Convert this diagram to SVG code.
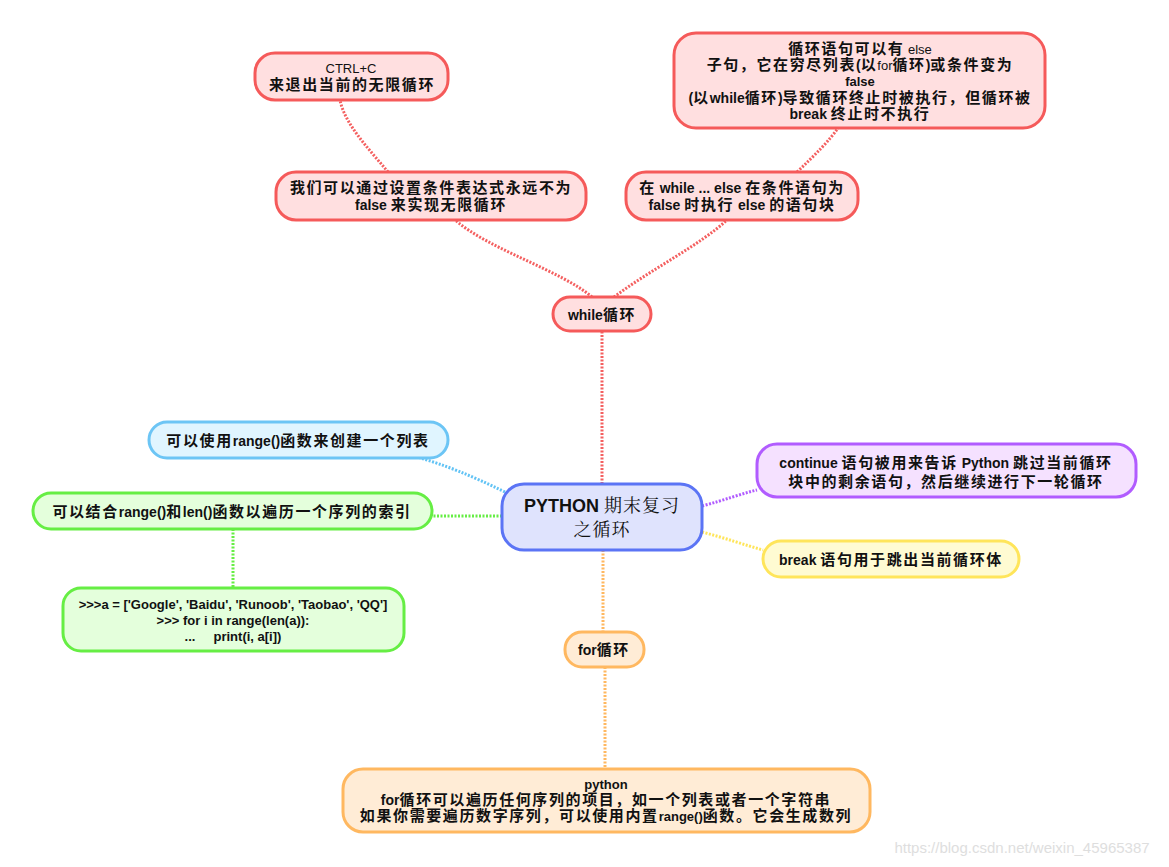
<svg xmlns="http://www.w3.org/2000/svg" width="1169" height="867" viewBox="0 0 1169 867">
<style>
text{font-family:"Liberation Sans","Noto Sans CJK SC",sans-serif;font-weight:bold;fill:#111;text-anchor:middle}
.t{font-size:15px;letter-spacing:1.6px}
.l{letter-spacing:0;font-size:14px}
.n{font-weight:normal;letter-spacing:0;font-size:13px}
.s{font-size:13px;font-weight:normal}
.b{font-size:13px}
.c{fill:none;stroke-width:3;stroke-dasharray:2 1.5}
.red{stroke:#f46060}
.nr{fill:#ffdfe0;stroke:#f55a5a;stroke-width:3}
</style>
<rect width="1169" height="867" fill="#fff"/>
<g id="connectors">
<path class="c red" d="M602,484 V331"/>
<path class="c red" d="M592,297 C560,270 490,250 455,220"/>
<path class="c red" d="M614,297 C650,270 700,245 727,220"/>
<path class="c red" d="M388,172 C370,150 345,125 340,100"/>
<path class="c red" d="M797,172 C815,155 830,140 838,128"/>
<path class="c" stroke="#62c3f5" d="M505,492 C470,475 445,465 420,458"/>
<path class="c" stroke="#66ee44" d="M502,516 H432"/>
<path class="c" stroke="#66ee44" d="M233,529 V588"/>
<path class="c" stroke="#ffb860" d="M603,550 V632"/>
<path class="c" stroke="#ffb860" d="M605,667 V769"/>
<path class="c" stroke="#b15cff" d="M702,506 C725,500 740,494 757,490"/>
<path class="c" stroke="#ffe55a" d="M702,532 C725,538 745,545 763,550"/>
</g>
<g id="center">
<rect x="502" y="484" width="200" height="66" rx="22" fill="#dfe3fd" stroke="#5b74f5" stroke-width="3"/>
<text x="602" y="512" font-size="18">PYTHON <tspan style="font-weight:normal;letter-spacing:1px" font-family="Noto Serif CJK SC,DejaVu Serif,serif">期末复习</tspan></text>
<text x="602" y="536" font-size="18" style="font-weight:normal;letter-spacing:1px;font-family:'Noto Serif CJK SC','Noto Sans CJK SC',serif">之循环</text>
</g>
<g id="while">
<rect class="nr" x="553" y="297" width="98" height="34" rx="17"/>
<text class="t" x="602" y="320"><tspan class="l">while</tspan>循环</text>
</g>
<g id="infinite">
<rect class="nr" x="276" y="172" width="310" height="48" rx="20"/>
<text class="t" x="431" y="193">我们可以通过设置条件表达式永远不为</text>
<text class="t" x="431" y="210"><tspan class="l">false </tspan>来实现无限循环</text>
</g>
<g id="ctrlc">
<rect class="nr" x="255" y="53" width="193" height="47" rx="20"/>
<text class="s" x="351" y="73">CTRL+C</text>
<text class="t" x="352" y="90">来退出当前的无限循环</text>
</g>
<g id="whileelse">
<rect class="nr" x="626" y="172" width="232" height="48" rx="20"/>
<text class="t" x="742" y="193">在<tspan class="l"> while ... else </tspan>在条件语句为</text>
<text class="t" x="742" y="210"><tspan class="l">false </tspan>时执行<tspan class="l"> else </tspan>的语句块</text>
</g>
<g id="elseclause">
<rect class="nr" x="674" y="33" width="371" height="95" rx="22"/>
<text class="t" x="860" y="54">循环语句可以有<tspan class="n"> else</tspan></text>
<text class="t" x="860" y="70">子句，它在穷尽列表<tspan class="l">(</tspan>以<tspan class="n">for</tspan>循环<tspan class="l">)</tspan>或条件变为</text>
<text class="b" x="860" y="86">false</text>
<text class="t" x="860" y="103"><tspan class="l">(</tspan>以<tspan class="l">while</tspan>循环<tspan class="l">)</tspan>导致循环终止时被执行，但循环被</text>
<text class="t" x="860" y="119"><tspan class="l">break </tspan>终止时不执行</text>
</g>
<g id="rangelist">
<rect x="149" y="422" width="299" height="36" rx="18" fill="#e0f5ff" stroke="#6cc5f5" stroke-width="3"/>
<text class="t" x="298" y="446">可以使用<tspan class="l">range()</tspan>函数来创建一个列表</text>
</g>
<g id="rangelen">
<rect x="33" y="493" width="399" height="36" rx="18" fill="#e4ffdc" stroke="#66ee44" stroke-width="3"/>
<text class="t" x="232" y="517">可以结合<tspan class="l">range()</tspan>和<tspan class="l">len()</tspan>函数以遍历一个序列的索引</text>
</g>
<g id="code">
<rect x="63" y="588" width="341" height="63" rx="18" fill="#e4ffdc" stroke="#66ee44" stroke-width="3"/>
<text x="233" y="609" font-size="13">&gt;&gt;&gt;a = ['Google', 'Baidu', 'Runoob', 'Taobao', 'QQ']</text>
<text x="233" y="625" font-size="13">&gt;&gt;&gt; for i in range(len(a)):</text>
<text x="233" y="641" font-size="13" xml:space="preserve">...     print(i, a[i])</text>
</g>
<g id="for">
<rect x="565" y="632" width="79" height="35" rx="17" fill="#ffecd6" stroke="#ffb860" stroke-width="3"/>
<text class="t" x="604" y="655"><tspan class="l">for</tspan>循环</text>
</g>
<g id="python">
<rect x="343" y="769" width="527" height="63" rx="20" fill="#ffecd6" stroke="#ffb860" stroke-width="3"/>
<text class="b" x="606" y="789">python</text>
<text class="t" x="606" y="805"><tspan class="l">for</tspan>循环可以遍历任何序列的项目，如一个列表或者一个字符串</text>
<text class="t" x="606" y="821">如果你需要遍历数字序列，可以使用内置<tspan class="l" style="font-size:13px">range()</tspan>函数。它会生成数列</text>
</g>
<g id="continue">
<rect x="757" y="444" width="379" height="53" rx="20" fill="#f5e1ff" stroke="#b15cff" stroke-width="3"/>
<text class="t" x="946" y="468"><tspan class="l">continue </tspan>语句被用来告诉<tspan class="l"> Python </tspan>跳过当前循环</text>
<text class="t" x="946" y="487">块中的剩余语句，然后继续进行下一轮循环</text>
</g>
<g id="break">
<rect x="763" y="541" width="256" height="36" rx="18" fill="#fffbd2" stroke="#ffe55a" stroke-width="3"/>
<text class="t" x="891" y="565"><tspan class="l">break </tspan>语句用于跳出当前循环体</text>
</g>
<text x="1022" y="853" style="font-size:15px;font-weight:normal;fill:#dedede">https://blog.csdn.net/weixin_45965387</text>
</svg>
